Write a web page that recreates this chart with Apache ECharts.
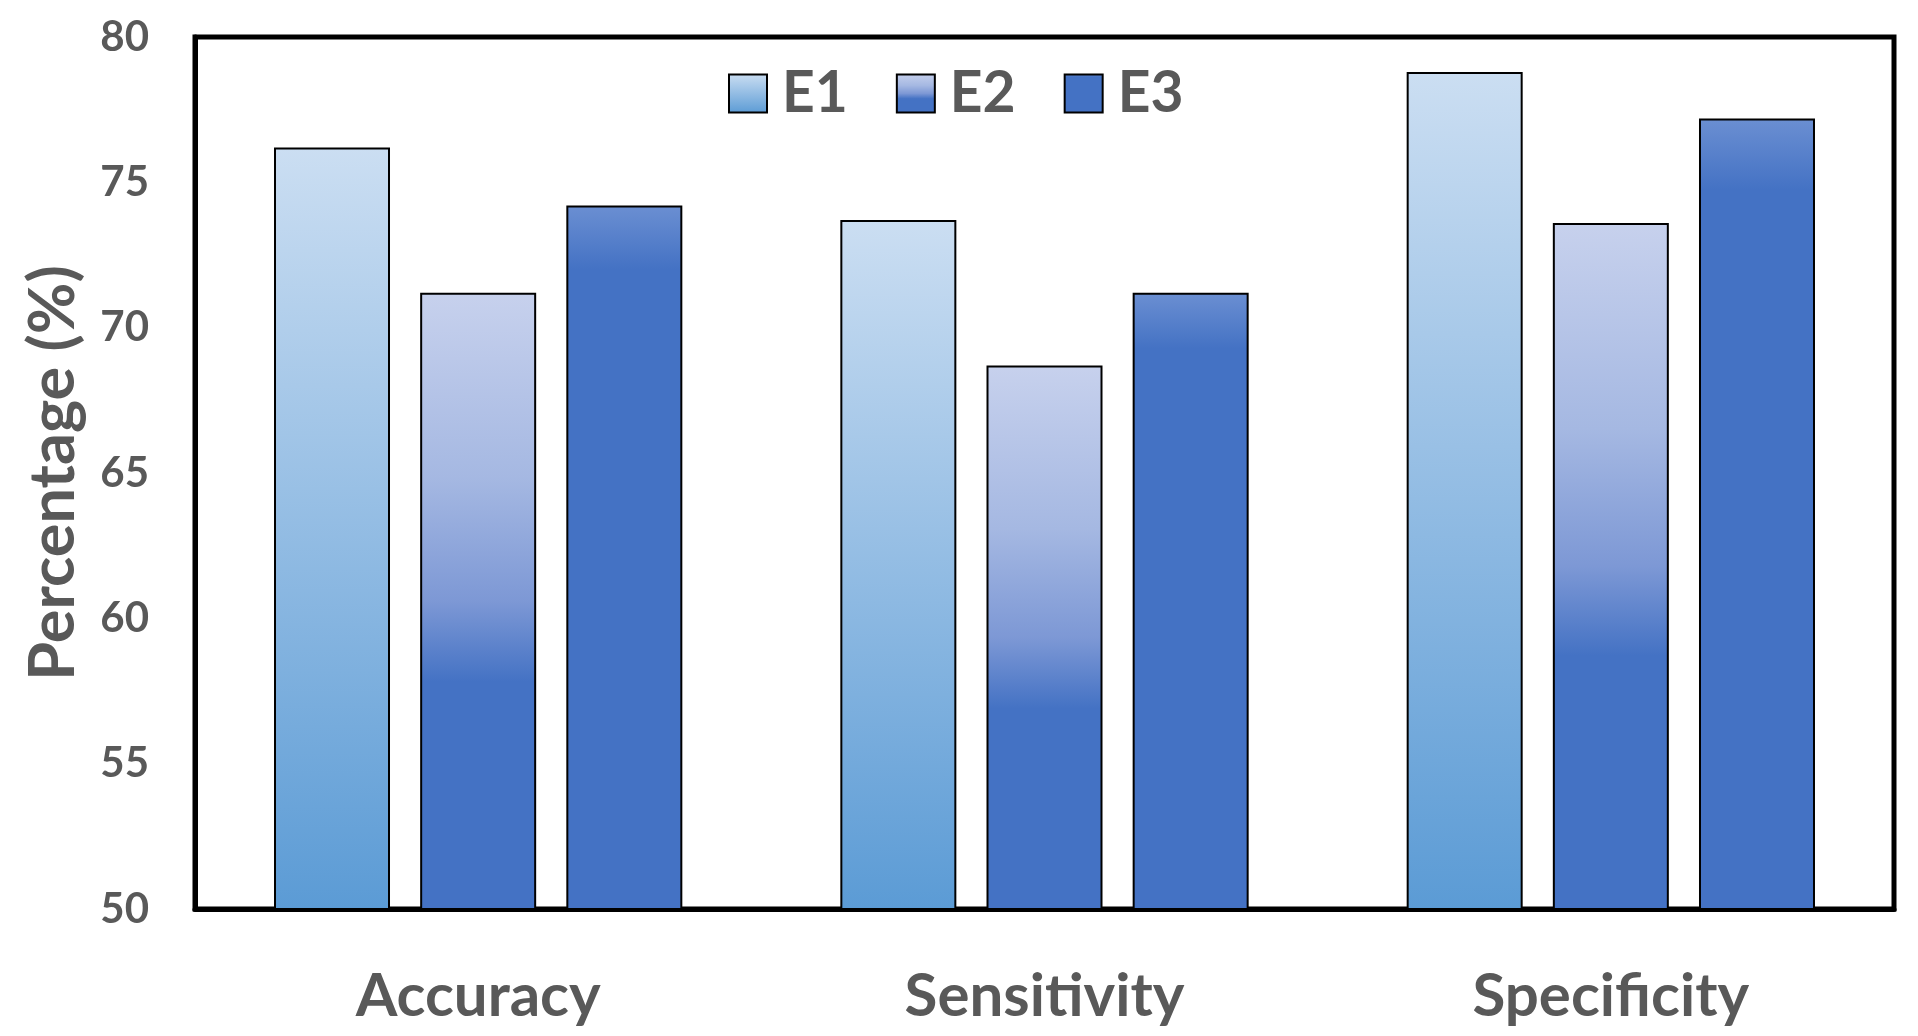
<!DOCTYPE html>
<html>
<head>
<meta charset="utf-8">
<title>E1 E2 E3</title>
<script src="https://cdn.jsdelivr.net/npm/echarts@6/dist/echarts.min.js"></script>
<style>
  html, body { margin: 0; padding: 0; background: #fff; }
  #chart { width: 1918px; height: 1036px; }
</style>
</head>
<body>
<div id="chart"></div>
<script>
// data
const categories = ['Accuracy', 'Sensitivity', 'Specificity'];
const seriesNames = ['E1', 'E2', 'E3'];
const e1Values = [76.2, 73.7, 78.8];
const e2Values = [71.2, 68.7, 73.6];
const e3Values = [74.2, 71.2, 77.2];
const yTicks = [50, 55, 60, 65, 70, 75, 80];

const textColor = '#595959';
const fontFamily = 'Lato, "Open Sans", sans-serif';

// gradient per bar, top to bottom
function grad(stops) {
  return new echarts.graphic.LinearGradient(0, 0, 0, 1,
    stops.map(s => ({ offset: s[0], color: s[1] })));
}

const fills = [
  grad([[0, '#cbdef2'], [1, '#5b9bd5']]),
  grad([[0, '#c7d1ed'], [0.3, '#a5b8e2'], [0.5, '#7d98d5'], [0.63, '#4472c4'], [1, '#4472c4']]),
  grad([[0, '#6b8fd2'], [0.09, '#4472c4'], [1, '#4472c4']])
];

const chart = echarts.init(document.getElementById('chart'));

const option = {
  animation: false,
  backgroundColor: '#fff',
  grid: {
    left: 195,
    right: 24,
    top: 37,
    bottom: 127,
    show: true,
    borderColor: '#000',
    borderWidth: 5,
    backgroundColor: 'transparent'
  },
  legend: {
    left: 723,
    top: 60,
    itemWidth: 38,
    itemHeight: 38,
    itemGap: 48,
    icon: 'rect',
    textStyle: {
      color: textColor,
      fontFamily: fontFamily,
      fontWeight: 'bold',
      fontSize: 57,
      padding: [0, 0, 0, 10]
    },
    data: seriesNames
  },
  xAxis: {
    type: 'category',
    data: categories,
    axisLine: { show: true, lineStyle: { color: '#000', width: 5 } },
    axisTick: { show: false },
    axisLabel: {
      color: textColor,
      fontFamily: fontFamily,
      fontWeight: 'bold',
      fontSize: 60,
      margin: 58
    }
  },
  yAxis: {
    type: 'value',
    min: yTicks[0],
    max: yTicks[yTicks.length - 1],
    interval: 5,
    name: 'Percentage (%)',
    nameLocation: 'middle',
    nameGap: 110,
    nameTextStyle: {
      color: textColor,
      fontFamily: fontFamily,
      fontWeight: 'bold',
      fontSize: 63
    },
    axisLine: { show: true, lineStyle: { color: '#000', width: 5 } },
    axisTick: { show: false },
    splitLine: { show: false },
    axisLabel: {
      color: textColor,
      fontFamily: fontFamily,
      fontWeight: 'bold',
      fontSize: 42,
      margin: 46
    }
  },
  series: [e1Values, e2Values, e3Values].map((vals, i) => ({
    name: seriesNames[i],
    type: 'bar',
    data: vals,
    barWidth: 116,
    barGap: '26%',
    itemStyle: {
      color: fills[i],
      borderColor: '#000',
      borderWidth: 2
    }
  }))
};

chart.setOption(option);
</script>
</body>
</html>
